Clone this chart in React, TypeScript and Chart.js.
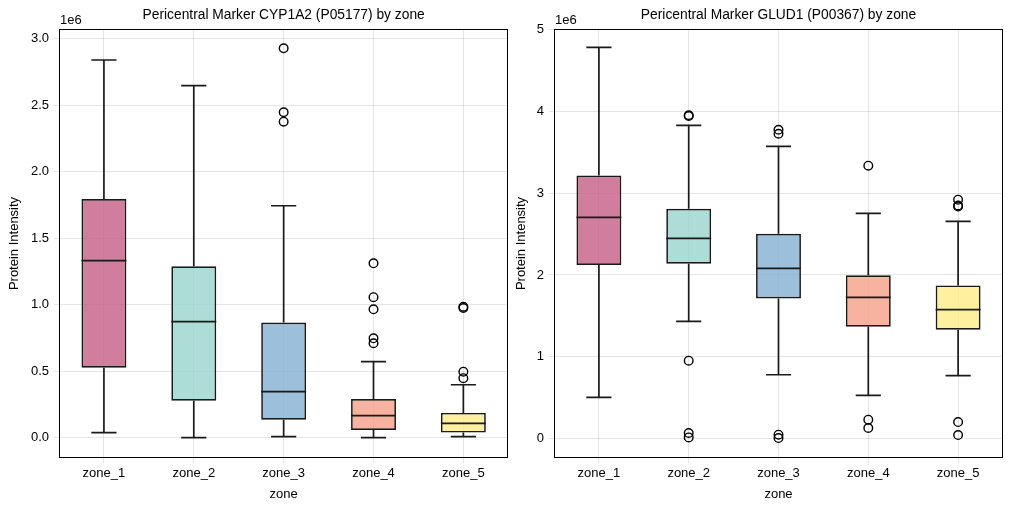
import React, { useEffect, useRef } from "react";
import { Chart, registerables } from "chart.js";

Chart.register(...registerables);

const FONT = "'Liberation Sans', Arial, sans-serif";

const zones = ["zone_1", "zone_2", "zone_3", "zone_4", "zone_5"];
const boxColors = [
  "rgba(196,93,134,0.8)",
  "rgba(154,211,204,0.8)",
  "rgba(131,175,210,0.8)",
  "rgba(246,159,136,0.8)",
  "rgba(255,236,136,0.8)",
];

// CYP1A2 (P05177), values in units of 1e6
const cypWhiskerLow = [0.038, 0.0, 0.008, 0.0, 0.008];
const cypQ1 = [0.526, 0.278, 0.135, 0.058, 0.038];
const cypMedian = [1.331, 0.872, 0.346, 0.165, 0.108];
const cypQ3 = [1.795, 1.289, 0.865, 0.291, 0.186];
const cypWhiskerHigh = [2.84, 2.647, 1.744, 0.571, 0.398];
const cypOutliers = [
  [],
  [],
  [2.928, 2.447, 2.376],
  [1.311, 1.056, 0.965, 0.747, 0.71],
  [0.985, 0.975, 0.496, 0.447],
];
const cypTicks = { min: -0.153, max: 3.073, step: 0.5, decimals: 1 };

// GLUD1 (P00367), values in units of 1e6
const gludWhiskerLow = [0.502, 1.432, 0.779, 0.526, 0.767];
const gludQ1 = [2.121, 2.137, 1.713, 1.367, 1.33];
const gludMedian = [2.704, 2.447, 2.08, 1.725, 1.575];
const gludQ3 = [3.218, 2.81, 2.505, 1.995, 1.872];
const gludWhiskerHigh = [4.784, 3.83, 3.573, 2.753, 2.655];
const gludOutliers = [
  [],
  [3.955, 3.945, 0.951, 0.066, 0.012],
  [3.777, 3.728, 0.045, 0.004],
  [3.337, 0.229, 0.127],
  [2.921, 2.85, 2.839, 0.2, 0.041],
];
const gludTicks = { min: -0.24, max: 5.01, step: 1, decimals: 0 };

type Props = {
  title: string;
  low: number[];
  q1: number[];
  median: number[];
  q3: number[];
  high: number[];
  outliers: number[][];
  ticks: { min: number; max: number; step: number; decimals: number };
  left: number;
  width: number;
  yAxisWidth: number;
  padRight: number;
  yTitlePad: number;
};

function BoxChart(p: Props) {
  const ref = useRef<HTMLCanvasElement | null>(null);
  useEffect(() => {
    if (!ref.current) return;
    const line = "#1a1a1a";
    const lw = 1.7;
    const plugin = {
      id: "boxdraw",
      afterDatasetsDraw(chart: any) {
        const { ctx, chartArea, scales } = chart;
        const x = scales.x;
        const y = scales.y;
        const meta = chart.getDatasetMeta(0);
        ctx.save();
        ctx.beginPath();
        ctx.rect(chartArea.left, chartArea.top, chartArea.right - chartArea.left, chartArea.bottom - chartArea.top);
        ctx.clip();
        ctx.strokeStyle = line;
        ctx.lineWidth = lw;
        ctx.lineCap = "butt";
        for (let i = 0; i < zones.length; i++) {
          const cx = x.getPixelForValue(i);
          const cl = x.getPixelForValue(i - 0.14);
          const cr = x.getPixelForValue(i + 0.14);
          const yq1 = y.getPixelForValue(p.q1[i]);
          const yq3 = y.getPixelForValue(p.q3[i]);
          const ylo = y.getPixelForValue(p.low[i]);
          const yhi = y.getPixelForValue(p.high[i]);
          const ymed = y.getPixelForValue(p.median[i]);
          const bar = meta.data[i];
          const bl = bar.x - bar.width / 2;
          const br = bar.x + bar.width / 2;
          ctx.beginPath();
          ctx.moveTo(cx, yq3);
          ctx.lineTo(cx, yhi);
          ctx.moveTo(cx, yq1);
          ctx.lineTo(cx, ylo);
          ctx.moveTo(cl, yhi);
          ctx.lineTo(cr, yhi);
          ctx.moveTo(cl, ylo);
          ctx.lineTo(cr, ylo);
          ctx.moveTo(bl, ymed);
          ctx.lineTo(br, ymed);
          ctx.stroke();
        }
        ctx.restore();
      },
      afterDraw(chart: any) {
        const { ctx, chartArea } = chart;
        ctx.save();
        ctx.strokeStyle = "#000";
        ctx.lineWidth = 1;
        ctx.strokeRect(
          Math.round(chartArea.left) + 0.5,
          Math.round(chartArea.top) + 0.5,
          Math.round(chartArea.right - chartArea.left) - 1,
          Math.round(chartArea.bottom - chartArea.top) - 1
        );
        ctx.fillStyle = "#000";
        ctx.textBaseline = "middle";
        ctx.textAlign = "center";
        ctx.font = `13.8px ${FONT}`;
        ctx.fillText(p.title, (chartArea.left + chartArea.right) / 2, 15);
        ctx.textAlign = "left";
        ctx.font = `13px ${FONT}`;
        ctx.fillText("1e6", chartArea.left + 1, 20);
        ctx.restore();
      },
    };

    const outlierPoints: { x: string; y: number }[] = [];
    p.outliers.forEach((arr, i) => arr.forEach((v) => outlierPoints.push({ x: zones[i], y: v })));

    const chart = new Chart(ref.current, {
      type: "bar",
      data: {
        labels: zones,
        datasets: [
          {
            type: "bar",
            data: zones.map((_, i) => [p.q1[i], p.q3[i]]) as any,
            backgroundColor: boxColors,
            borderColor: line,
            borderWidth: lw,
            borderSkipped: false,
            barPercentage: 0.5,
            categoryPercentage: 1,
            grouped: false,
            order: 2,
          } as any,
          {
            type: "scatter",
            data: outlierPoints as any,
            pointStyle: "circle",
            pointRadius: 4.3,
            pointBorderWidth: 1.4,
            pointBorderColor: "#000",
            pointBackgroundColor: "rgba(0,0,0,0)",
            showLine: false,
            order: 1,
          } as any,
        ],
      },
      options: {
        animation: false,
        responsive: false,
        devicePixelRatio: 1,
        events: [],
        layout: { padding: { top: 29, right: p.padRight, left: 0, bottom: 0 } },
        plugins: { legend: { display: false }, tooltip: { enabled: false }, title: { display: false } },
        scales: {
          x: {
            type: "category",
            offset: true,
            grid: { offset: false, color: "rgba(0,0,0,0.1)", lineWidth: 1, tickLength: 5, drawTicks: true },
            border: { display: false },
            ticks: { color: "#000", font: { family: FONT, size: 13 }, padding: 3 },
            title: { display: true, text: "zone", color: "#000", font: { family: FONT, size: 13 }, padding: { top: 0, bottom: 9 } },
            afterFit: (s: any) => {
              s.height = 53;
            },
          },
          y: {
            type: "linear",
            min: p.ticks.min,
            max: p.ticks.max,
            grid: { color: "rgba(0,0,0,0.1)", lineWidth: 1, tickLength: 5, drawTicks: true },
            border: { display: false },
            ticks: {
              stepSize: p.ticks.step,
              includeBounds: false,
              color: "#000",
              font: { family: FONT, size: 13 },
              padding: 5,
              callback: (v: any) => Number(v).toFixed(p.ticks.decimals),
            },
            title: {
              display: true,
              text: "Protein Intensity",
              color: "#000",
              font: { family: FONT, size: 13 },
              padding: { top: p.yTitlePad, bottom: 0 },
            },
            afterFit: (s: any) => {
              s.width = p.yAxisWidth;
            },
          },
        },
      } as any,
      plugins: [plugin as any],
    });
    return () => chart.destroy();
  }, []);
  return (
    <canvas
      ref={ref}
      width={p.width}
      height={511}
      style={{ position: "absolute", left: p.left, top: 0, width: p.width, height: 511 }}
    />
  );
}

export default function App() {
  return (
    <div style={{ position: "fixed", left: 0, top: 0, width: 1011, height: 511, background: "#fff" }}>
      <BoxChart
        title="Pericentral Marker GLUD1 (P00367) by zone"
        low={gludWhiskerLow}
        q1={gludQ1}
        median={gludMedian}
        q3={gludQ3}
        high={gludWhiskerHigh}
        outliers={gludOutliers}
        ticks={gludTicks}
        left={509}
        width={502}
        yAxisWidth={45}
        padRight={8}
        yTitlePad={5}
      />
      <BoxChart
        title="Pericentral Marker CYP1A2 (P05177) by zone"
        low={cypWhiskerLow}
        q1={cypQ1}
        median={cypMedian}
        q3={cypQ3}
        high={cypWhiskerHigh}
        outliers={cypOutliers}
        ticks={cypTicks}
        left={0}
        width={514}
        yAxisWidth={59}
        padRight={2}
        yTitlePad={7}
      />
    </div>
  );
}
